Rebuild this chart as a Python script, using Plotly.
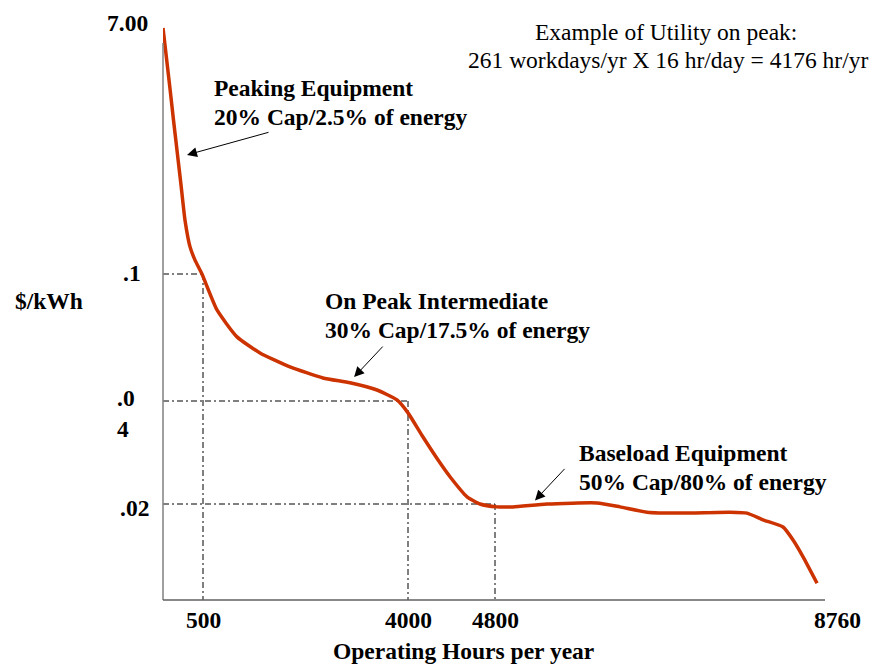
import numpy as np
import plotly.graph_objects as go

# ---- data ----
hours = [0, 85, 131, 179, 228, 275, 338, 400, 487, 739, 1080, 1473, 1985, 2548, 3009, 3471,
         3812, 4000, 4138, 4294, 4386, 4543, 4662, 4823, 5008, 5402, 5981, 6247, 6560, 6942,
         7521, 7718, 7903, 8135, 8251, 8367, 8529]
price = [7.0, 5.35, 4.42, 3.49, 2.54, 1.61, 0.86, 0.49, 0.10, 0.083, 0.0703, 0.0627, 0.0561,
         0.0509, 0.0486, 0.0452, 0.0405, 0.0377, 0.0330, 0.0280, 0.0253, 0.0214, 0.0200,
         0.0194, 0.0194, 0.0200, 0.0202, 0.0194, 0.0183, 0.0181, 0.0183, 0.0181, 0.0167,
         0.0152, 0.0125, 0.0090, 0.0035]

x_ticks = [500, 4000, 4800, 8760]
x_tick_labels = ["500", "4000", "4800", "8760"]
y_ticks = [7.0, 0.1, 0.04, 0.02]
y_tick_labels = ["7.00", ".1", ".0<br>4", ".02"]
guide_points = [(500, 0.1), (4000, 0.04), (4800, 0.02)]

# ---- schematic (non-linear) axis scales ----
H_ANCH = [0, 500, 4000, 4800, 8760]
X_POS = [0, 40, 245, 332, 674]
V_ANCH = [0.0, 0.02, 0.04, 0.1, 7.0]
Y_POS = [0, 96, 199, 326, 572]

W_PLOT, H_PLOT = 662, 580


def sx(h):
    return np.interp(h, H_ANCH, X_POS)


def sy(v):
    return np.interp(v, V_ANCH, Y_POS)


# layout helpers: page pixel -> paper fraction
L, T, B = 163, 20, 64
def px(p):
    return (p - L) / W_PLOT
def py(p):
    return (600 - p) / H_PLOT


FONT = "Liberation Serif, Times New Roman, serif"
FS = 23.5
CURVE = "#CC3300"
DASH = "6px,3px,2px,3px"

fig = go.Figure()

# guide lines (dash-dot)
shapes = []
for h, v in guide_points:
    shapes.append(dict(type="line", x0=0, x1=float(sx(h)), y0=float(sy(v)), y1=float(sy(v)),
                       line=dict(color="black", width=1, dash=DASH), layer="below"))
    shapes.append(dict(type="line", x0=float(sx(h)), x1=float(sx(h)), y0=float(sy(v)), y1=0,
                       line=dict(color="black", width=1, dash=DASH), layer="below"))
# axis lines
shapes.append(dict(type="line", xref="paper", yref="paper", x0=0, x1=0, y0=0, y1=py(43),
                   line=dict(color="#808080", width=1.5)))
shapes.append(dict(type="line", xref="paper", yref="paper", x0=0, x1=px(825), y0=0, y1=0,
                   line=dict(color="#606060", width=1.5)))

fig.add_trace(go.Scatter(
    x=sx(hours), y=sy(price), mode="lines",
    line=dict(color=CURVE, width=3.5, shape="spline", smoothing=0.5),
    hoverinfo="skip", cliponaxis=False, showlegend=False))

ann = []
def text(x, y, s, bold=True, xanchor="left", yanchor="middle", align="left"):
    ann.append(dict(x=x, y=y, xref="paper", yref="paper", text=(f"<b>{s}</b>" if bold else s),
                    showarrow=False, xanchor=xanchor, yanchor=yanchor, align=align,
                    font=dict(family=FONT, size=FS, color="black")))

# x tick labels (positions from the schematic scale)
for t, lab in zip(x_ticks, x_tick_labels):
    text(float(sx(t)) / W_PLOT, py(620), lab, xanchor="center")
# y tick labels
yl = dict(zip(y_ticks, y_tick_labels))
text(px(150), (float(sy(7.0)) + 5) / H_PLOT, yl[7.0], xanchor="right")
text(px(143), (float(sy(0.1)) + 1) / H_PLOT, yl[0.1], xanchor="right")
text(px(115), (float(sy(0.04)) - 12) / H_PLOT, yl[0.04], xanchor="left")
text(px(151), (float(sy(0.02)) - 4) / H_PLOT, yl[0.02], xanchor="right")

# axis titles
text(px(49), py(301), "$/kWh", xanchor="center")
text(px(463), py(651), "Operating Hours per year", xanchor="center")

# region labels
text(px(212), py(88), "Peaking Equipment")
text(px(212), py(117), "20% Cap/2.5% of energy")
text(px(323), py(301), "On Peak Intermediate")
text(px(323), py(330), "30% Cap/17.5% of energy")
text(px(577), py(453), "Baseload Equipment")
text(px(577), py(482), "50% Cap/80% of energy")

# note
text(px(666), py(32), "Example of Utility on peak:", bold=False, xanchor="center")
text(px(668), py(60), "261 workdays/yr X 16 hr/day = 4176 hr/yr", bold=False, xanchor="center")

# arrows (head near the curve, tail offset in pixels)
arrows = [((300, 3.44), (83, -23)), ((3080, 0.0513), (30, -32)), ((5263, 0.0207), (31, -33))]
for (h, v), (ax, ay) in arrows:
    ann.append(dict(x=float(sx(h)), y=float(sy(v)), xref="x", yref="y", text="",
                    showarrow=True, arrowhead=2, arrowsize=2, arrowwidth=1,
                    arrowcolor="black", ax=ax, ay=ay))

fig.update_layout(
    width=875, height=664,
    margin=dict(l=L, r=50, t=T, b=B),
    paper_bgcolor="white", plot_bgcolor="white",
    xaxis=dict(range=[0, W_PLOT], visible=False, fixedrange=True),
    yaxis=dict(range=[0, H_PLOT], visible=False, fixedrange=True),
    shapes=shapes, annotations=ann, showlegend=False,
)

fig.write_html("out.html")
